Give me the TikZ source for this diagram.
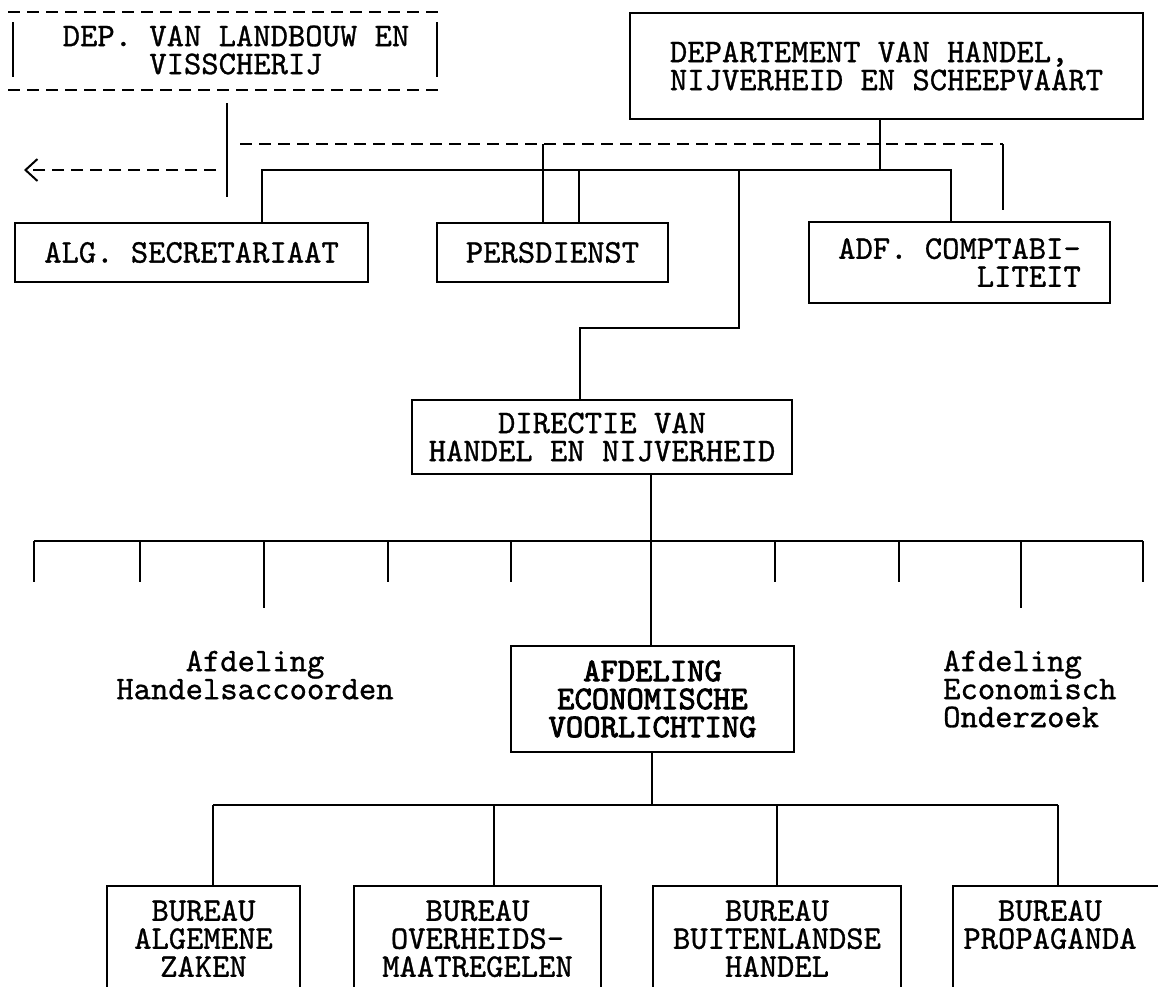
\documentclass[tikz,border=0pt]{standalone}
\usepackage{fontspec}
\newfontfamily\tw[FakeBold=0.9]{lmmono10-regular.otf}
\newfontfamily\twb[FakeBold=2.6]{lmmono10-regular.otf}
\usetikzlibrary{arrows.meta}
\tikzset{
  ln/.style={line width=1.7pt},
  dsh/.style={line width=2.4pt, dash pattern=on 12pt off 7pt},
  txt/.style={font=\tw\fontsize{33}{28}\selectfont, align=center, inner sep=0pt},
  boldtxt/.style={font=\twb\fontsize{33}{28}\selectfont, align=center, inner sep=0pt},
  box/.style={draw, line width=1.7pt, inner sep=0pt},
}
\begin{document}
\begin{tikzpicture}[x=1pt,y=-1pt]
\useasboundingbox (0,0) rectangle (1158,986);
\clip (0,0) rectangle (1158,986);
\fill[white] (0,0) rectangle (1158,986);

% ---- top row
\node[txt] (lb) at (236,50) {DEP. VAN LANDBOUW EN\\VISSCHERIJ};
\draw[dsh] (8,12) -- (443,12);
\draw[dsh] (8,90) -- (443,90);
\draw[ln] (13,22) -- (13,77);
\draw[ln] (437,22) -- (437,77);

\node[box, txt, align=left, minimum width=513, minimum height=106] (dep) at (886.5,66)
  {DEPARTEMENT VAN HANDEL,\\NIJVERHEID EN SCHEEPVAART};

% ---- second row
\node[box, txt, minimum width=353, minimum height=59] (alg) at (191.5,252.5) {ALG. SECRETARIAAT};
\node[box, txt, minimum width=231, minimum height=59] (pers) at (552.5,252.5) {PERSDIENST};
\node[box, txt, align=right, minimum width=301, minimum height=81] (adf) at (959.5,262.5) {ADF. COMPTABI-\\LITEIT};

% landbouw connector and arrow
\coordinate (lbtop) at (227,103);
\coordinate (lbfoot) at (227,197);
\draw[ln] (lbtop) -- (lbfoot);
\coordinate (arrS) at (216,170);
\coordinate (arrE) at (24,170);
\draw[dsh, -{Straight Barb[length=12pt,width=22pt,line width=2pt]}] (arrS) -- (arrE);

% dashed line
\coordinate (dL) at (240,144);
\coordinate (dR) at (1003,144);
\coordinate (dE) at (1003,210);
\coordinate (dP) at (543,144);
\draw[dsh] (dL) -- (dR);
\draw[ln] (dR) -- (dE);
\draw[ln] (dP) -- (dP |- pers.north);

% solid distribution line
\coordinate (sL) at (262,170);
\coordinate (sR) at (951,170);
\coordinate (sD) at (880,170);
\coordinate (sP) at (579,170);
\draw[ln] (sL |- alg.north) -- (sL) -- (sR) -- (sR |- adf.north);
\draw[ln] (sD) -- (sD |- dep.south);
\draw[ln] (sP) -- (sP |- pers.north);

% directie
\node[box, txt, minimum width=380, minimum height=74] (dir) at (602,437)
  {DIRECTIE VAN\\HANDEL EN NIJVERHEID};
\coordinate (j1) at (739,170);
\coordinate (j2) at (739,328);
\coordinate (j3) at (580,328);
\draw[ln] (j1) -- (j2) -- (j3) -- (j3 |- dir.north);

% branch bar
\coordinate (b0) at (651,541);
\draw[ln] (34,541) -- (1143,541);
\foreach \x in {34,140,388,511,775,899,1143} \draw[ln] (\x,541) -- (\x,582);
\foreach \x in {264,1021} \draw[ln] (\x,541) -- (\x,608);
\draw[ln] (dir.south -| b0) -- (b0);

\node[txt] (ha) at (255,675) {Afdeling\\Handelsaccoorden};
\node[txt, align=left, anchor=west] (eo) at (943,689) {Afdeling\\Economisch\\Onderzoek};

\node[box, boldtxt, minimum width=283, minimum height=106] (afd) at (652.5,699)
  {AFDELING\\ECONOMISCHE\\VOORLICHTING};
\draw[ln] (b0) -- (b0 |- afd.north);

% bureaus
\coordinate (u0) at (652,805);
\draw[ln] (afd.south -| u0) -- (u0);
\draw[ln] (213,805) -- (1058,805);

\node[box, minimum width=193, minimum height=130, anchor=north] (b1) at (203.5,885) {};
\node[box, minimum width=247, minimum height=130, anchor=north] (b2) at (477.5,885) {};
\node[box, minimum width=248, minimum height=130, anchor=north] (b3) at (777,885) {};
\node[box, minimum width=210, minimum height=130, anchor=north] (b4) at (1058,885) {};

\node[txt, anchor=north] (t1) at ([yshift=-15]b1.north) {BUREAU\\ALGEMENE\\ZAKEN};
\node[txt, anchor=north] (t2) at ([yshift=-15]b2.north) {BUREAU\\OVERHEIDS-\\MAATREGELEN};
\node[txt, anchor=north] (t3) at ([yshift=-15]b3.north) {BUREAU\\BUITENLANDSE\\HANDEL};
\node[txt, anchor=north] (t4) at ([yshift=-15]b4.north -| 1050,0) {BUREAU\\PROPAGANDA};

\foreach \x/\b in {213/b1,494/b2,777/b3,1058/b4} {
  \coordinate (tk) at (\x,805);
  \draw[ln] (tk) -- (tk |- \b.north);
}
\end{tikzpicture}
\end{document}
